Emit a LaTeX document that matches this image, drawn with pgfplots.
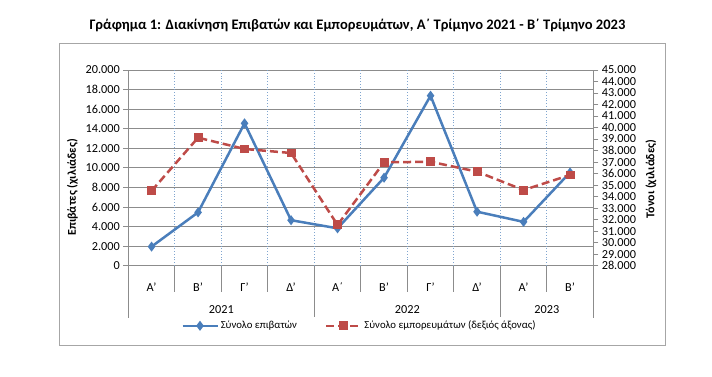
\documentclass[border=0pt]{standalone}
\usepackage{pgfplots}
\pgfplotsset{compat=1.18}
\usepackage{fontspec}
\setmainfont{Carlito}
\definecolor{cblue}{HTML}{4A7EBB}
\definecolor{cred}{HTML}{BE4B48}
\definecolor{cgrid}{HTML}{8C8C8C}
\definecolor{cframe}{HTML}{A6A6A6}
\begin{document}
\begin{tikzpicture}
\path[use as bounding box] (0bp,0bp) rectangle (712bp,377bp);
\draw[cframe, line width=0.75bp] (59.3bp,32bp) rectangle (665bp,333.7bp);
\node[font=\bfseries\fontsize{14.6}{16}\selectfont] at (357.5bp,352bp) {Γράφημα 1: Διακίνηση Επιβατών και Εμπορευμάτων, Α΄ Τρίμηνο 2021 - Β΄ Τρίμηνο 2023};
\pgfplotsset{
  base/.style={
    at={(128.3bp,111.3bp)}, anchor=south west,
    width=465bp, height=195.7bp, scale only axis,
    xmin=-0.5, xmax=9.5,
    scaled y ticks=false,
    /pgf/number format/1000 sep={.},
    /pgf/number format/assume math mode=true,
    ticklabel style={font=\fontsize{12.3}{13}\selectfont},
    tick align=outside, major tick length=5bp,
    tick style={cgrid, line width=0.75bp},
    axis line style={cgrid, line width=0.75bp},
    label style={font=\bfseries\fontsize{12}{13}\selectfont},
    clip=false,
  }
}
\begin{axis}[base,
  ymin=0, ymax=20000, ytick={0,2000,...,20000},
  axis x line*=bottom, axis y line*=left,
  xtick={0,...,9},
  xticklabels={Α',Β',Γ',Δ',Α΄,Β',Γ',Δ',Α',Β'},
  xtick style={draw=none},
  xticklabel style={anchor=center, yshift=-16bp},
  ymajorgrids, major grid style={cgrid, line width=0.75bp},
  ylabel={Επιβάτες (χιλιάδες)},
  ylabel style={at={(rel axis cs:-0.12,0.4)}, anchor=center},
]
\pgfplotsinvokeforeach{0.5,1.5,2.5,3.5,4.5,5.5,6.5,7.5,8.5}{
  \draw[cblue!70, dotted, line width=0.75bp] (axis cs:#1,0) -- (axis cs:#1,20000);
  \draw[cgrid, line width=0.75bp] (axis cs:#1,0) -- ([yshift=-26bp]axis cs:#1,0);
}
\pgfplotsinvokeforeach{-0.5,3.5,7.5,9.5}{
  \draw[cgrid, line width=0.75bp] (axis cs:#1,0) -- ([yshift=-52bp]axis cs:#1,0);
}
\node[font=\fontsize{12.3}{13}\selectfont] at (axis cs:1.5,0) [yshift=-44bp] {2021};
\node[font=\fontsize{12.3}{13}\selectfont] at (axis cs:5.5,0) [yshift=-44bp] {2022};
\node[font=\fontsize{12.3}{13}\selectfont] at (axis cs:8.5,0) [yshift=-44bp] {2023};
\addplot[cblue, line width=2.5bp, mark=diamond*, mark size=3bp] coordinates {
 (0,1950) (1,5450) (2,14550) (3,4650) (4,3820) (5,8990) (6,17370) (7,5520) (8,4480) (9,9530)};
\end{axis}
\begin{axis}[base,
  ymin=28000, ymax=45000, ytick={28000,29000,...,45000},
  axis y line*=right, axis x line=none,
  ylabel={Τόνοι (χιλιάδες)},
  ylabel style={at={(rel axis cs:1.124,0.443)}, anchor=center},
  legend style={at={(0.497,-0.307)}, anchor=center, draw=none, legend columns=2,
    font=\fontsize{10.8}{12}\selectfont,
    /tikz/every even column/.append style={column sep=26bp}},
  legend image code/.code={\draw[mark repeat=2,mark phase=2,#1] plot coordinates {(0bp,0bp) (17.5bp,0bp) (35bp,0bp)};},
]
\addlegendimage{cblue, line width=2.5bp, mark=diamond*, mark size=3bp}
\addlegendentry{Σύνολο επιβατών}
\addplot[cred, line width=2.5bp, dash pattern=on 8bp off 4bp, mark=square*, mark size=3.2bp, mark options={solid}] coordinates {
 (0,34500) (1,39120) (2,38140) (3,37790) (4,31540) (5,36980) (6,37030) (7,36170) (8,34570) (9,35880)};
\addlegendentry{Σύνολο εμπορευμάτων (δεξιός άξονας)}
\end{axis}
\end{tikzpicture}
\end{document}
